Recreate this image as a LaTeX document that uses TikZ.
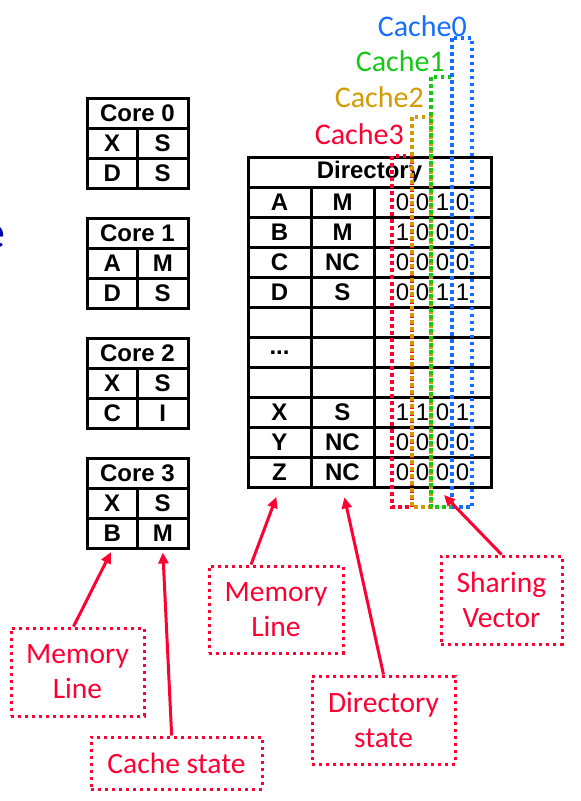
\documentclass[tikz,border=0pt]{standalone}
\usepackage{fontspec}
\usepackage{tikz}
\usetikzlibrary{arrows.meta}
\usetikzlibrary{calc}
\newfontfamily\arialfont{Liberation Sans}
\newfontfamily\calibrifont{Carlito}
\definecolor{callred}{RGB}{255,0,51}
\definecolor{cache0}{RGB}{20,110,255}
\definecolor{cache1}{RGB}{20,200,20}
\definecolor{cache2}{RGB}{210,155,0}
\definecolor{cache3}{RGB}{255,0,51}
\definecolor{navy}{RGB}{0,0,170}
\newcommand{\threedots}{...}

\begin{document}
\begin{tikzpicture}[x=1pt, y=-1pt, >={Triangle[length=11pt,width=10pt]},
  cell/.style={draw, line width=3pt, minimum height=30pt, inner sep=0pt, font=\arialfont\bfseries\fontsize{24}{26}\selectfont},
  bits/.style={cell, font=\arialfont\fontsize{24}{26}\selectfont},
  cachebox/.style={line width=3.5pt, dash pattern=on 3.5pt off 3.5pt},
  cachelabel/.style={anchor=base east, inner sep=0pt, font=\calibrifont\fontsize{30}{35}\selectfont},
  callout/.style={draw=callred, text=callred, line width=3pt, dash pattern=on 3pt off 4pt, align=center, inner sep=0pt, font=\calibrifont\fontsize{29.5}{35}\selectfont},
  callarrow/.style={->, callred, line width=3pt}]

\useasboundingbox (0,0) rectangle (581,801);

% cut-off word at the left border
\node [anchor=base east, inner sep=0pt, text=navy, font=\calibrifont\fontsize{48}{50}\selectfont] (frag) at (6,248) {e};

% private caches of the cores
\foreach \i/\ma/\sa/\mb/\sb in {0/X/S/D/S, 1/A/M/D/S, 2/X/S/C/I, 3/X/S/B/M}{
  \pgfmathsetmacro{\y}{98+120*\i}
  \node [cell, minimum width=101pt] (core\i) at (137.5,\y+15) {Core \i};
  \node [cell, minimum width=50.5pt] (c\i-m1) at (112.25,\y+45) {\ma};
  \node [cell, minimum width=50.5pt] (c\i-s1) at (162.75,\y+45) {\sa};
  \node [cell, minimum width=50.5pt] (c\i-m2) at (112.25,\y+75) {\mb};
  \node [cell, minimum width=50.5pt] (c\i-s2) at (162.75,\y+75) {\sb};
}

% the directory
\node [cell, minimum width=243pt] (dir) at (369.5,172) {Directory};
\foreach \m/\s/\v [count=\k] in {A/M/0 0 1 0, B/M/1 0 0 0, C/NC/0 0 0 0, D/S/0 0 1 1, ~/~/~, \raisebox{-5pt}{\threedots}/~/~, ~/~/~, X/S/1 1 0 1, Y/NC/0 0 0 0, Z/NC/0 0 0 0}{
  \node [cell, minimum width=63pt] (d\k-m) at (279.5,172+30*\k) {\m};
  \node [cell, minimum width=63pt] (d\k-s) at (342.5,172+30*\k) {\s};
  \node [bits, minimum width=117pt] (d\k-v) at (432.5,172+30*\k) {\v};
}

% one column of the sharing vector per cache
\draw [cachebox, cache3] (392,156) rectangle (412,507);
\draw [cachebox, cache2] (412,117) rectangle (431,507);
\draw [cachebox, cache1] (431,77) rectangle (452,507);
\draw [cachebox, cache0] (452,38) rectangle (472,507);

\node [cachelabel, cache0] (lab0) at (467,36) {Cache0};
\node [cachelabel, cache1] (lab1) at (445,71) {Cache1};
\node [cachelabel, cache2] (lab2) at (424,107) {Cache2};
\node [cachelabel, cache3] (lab3) at (404,144) {Cache3};

% callouts
\node [callout, minimum width=133pt, minimum height=88pt] (mline1) at (77.5,672) {Memory\\Line};
\node [callout, minimum width=171pt, minimum height=52pt] (cstate) at (176.5,763) {Cache state};
\node [callout, minimum width=134pt, minimum height=87pt] (mline2) at (276,609.5) {Memory\\Line};
\node [callout, minimum width=143pt, minimum height=88pt] (dstate) at (383.5,720) {Directory\\state};
\node [callout, minimum width=121pt, minimum height=88pt] (share) at (501.5,600) {Sharing\\Vector};

\coordinate (vecend) at (444,495);

\draw [callarrow, shorten >=3pt] (mline1.95) -- (c3-m2.south);
\draw [callarrow, shorten >=3pt] (cstate.100) -- (c3-s2.south);
\draw [callarrow, shorten >=9pt] (mline2.119) -- (d10-m.south);
\draw [callarrow, shorten >=9pt] (dstate.north) -- (d10-s.south);
\draw [callarrow] (share.north) -- (vecend);

\end{tikzpicture}
\end{document}
